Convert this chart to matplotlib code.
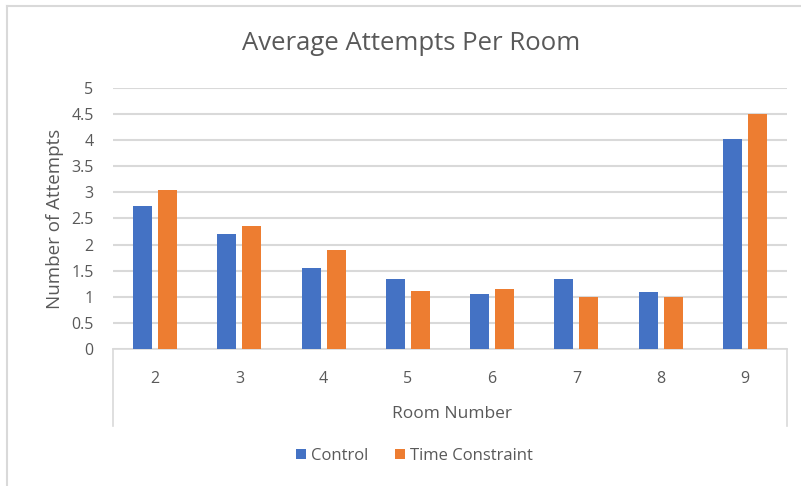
import matplotlib
matplotlib.use("Agg")
import matplotlib.pyplot as plt
import numpy as np
from matplotlib.lines import Line2D

rooms = ["2", "3", "4", "5", "6", "7", "8", "9"]
control = [2.74, 2.20, 1.55, 1.34, 1.05, 1.34, 1.10, 4.03]
time_constraint = [3.05, 2.35, 1.90, 1.12, 1.14, 1.00, 1.00, 4.50]
yticks = [0, 0.5, 1, 1.5, 2, 2.5, 3, 3.5, 4, 4.5, 5]
ytick_labels = ["0", "0.5", "1", "1.5", "2", "2.5", "3", "3.5", "4", "4.5", "5"]

plt.rcParams['font.family'] = ['Open Sans', 'DejaVu Sans']
W, H = 801, 486
fig = plt.figure(figsize=(W / 100, H / 100), dpi=100)
fig.patch.set_facecolor("white")

x0, x1 = 113, 787
y0, y1 = 349, 88
ax = fig.add_axes([x0 / W, 1 - y0 / H, (x1 - x0) / W, (y0 - y1) / H])

x = np.arange(len(rooms))
bw = 0.225
off = 0.148
ax.bar(x - off, control, bw, color="#4472C4", label="Control", zorder=3)
ax.bar(x + off, time_constraint, bw, color="#ED7D31", label="Time Constraint", zorder=3)

ax.set_xlim(-0.5, len(rooms) - 0.5)
ax.set_ylim(0, 5)
ax.set_yticks(yticks)
ax.set_yticklabels(ytick_labels, color="#595959", fontsize=11.5)
ax.yaxis.grid(True, color="#d9d9d9", linewidth=1.5, zorder=0)
ax.tick_params(axis="y", length=0, pad=14)
ax.set_xticks(x)
ax.set_xticklabels(rooms, color="#595959", fontsize=11.5)
ax.tick_params(axis="x", length=0, pad=16)
for s in ["top", "right", "left"]:
    ax.spines[s].set_visible(False)
ax.spines["bottom"].set_color("#d9d9d9")
ax.spines["bottom"].set_linewidth(1.2)

ax.set_ylabel("Number of Attempts", color="#595959", fontsize=13.5, labelpad=5)

def fx(px):
    return px / W

def fy(py):
    return 1 - py / H

# category box
for xp in (x0, x1):
    fig.add_artist(Line2D([fx(xp), fx(xp)], [fy(349), fy(426)], color="#d9d9d9", lw=1.2))
# chart border
fig.add_artist(Line2D([fx(7), fx(7)], [fy(6), 0], color="#d9d9d9", lw=1.5))
fig.add_artist(Line2D([fx(7), 1], [fy(6), fy(6)], color="#d9d9d9", lw=1.5))

fig.text(fx(411), fy(44), "Average Attempts Per Room", ha="center", va="center",
         fontsize=18.5, color="#595959")
fig.text(fx(452), fy(414), "Room Number", ha="center", va="center",
         fontsize=12.5, color="#595959")

leg = fig.legend(loc="center", bbox_to_anchor=(fx(414), fy(456)), ncol=2, frameon=False,
                 fontsize=12, handlelength=0.6, handleheight=0.6, handletextpad=0.3,
                 columnspacing=1.6)
for t in leg.get_texts():
    t.set_color("#595959")

fig.savefig("out.png", dpi=100, facecolor="white")
